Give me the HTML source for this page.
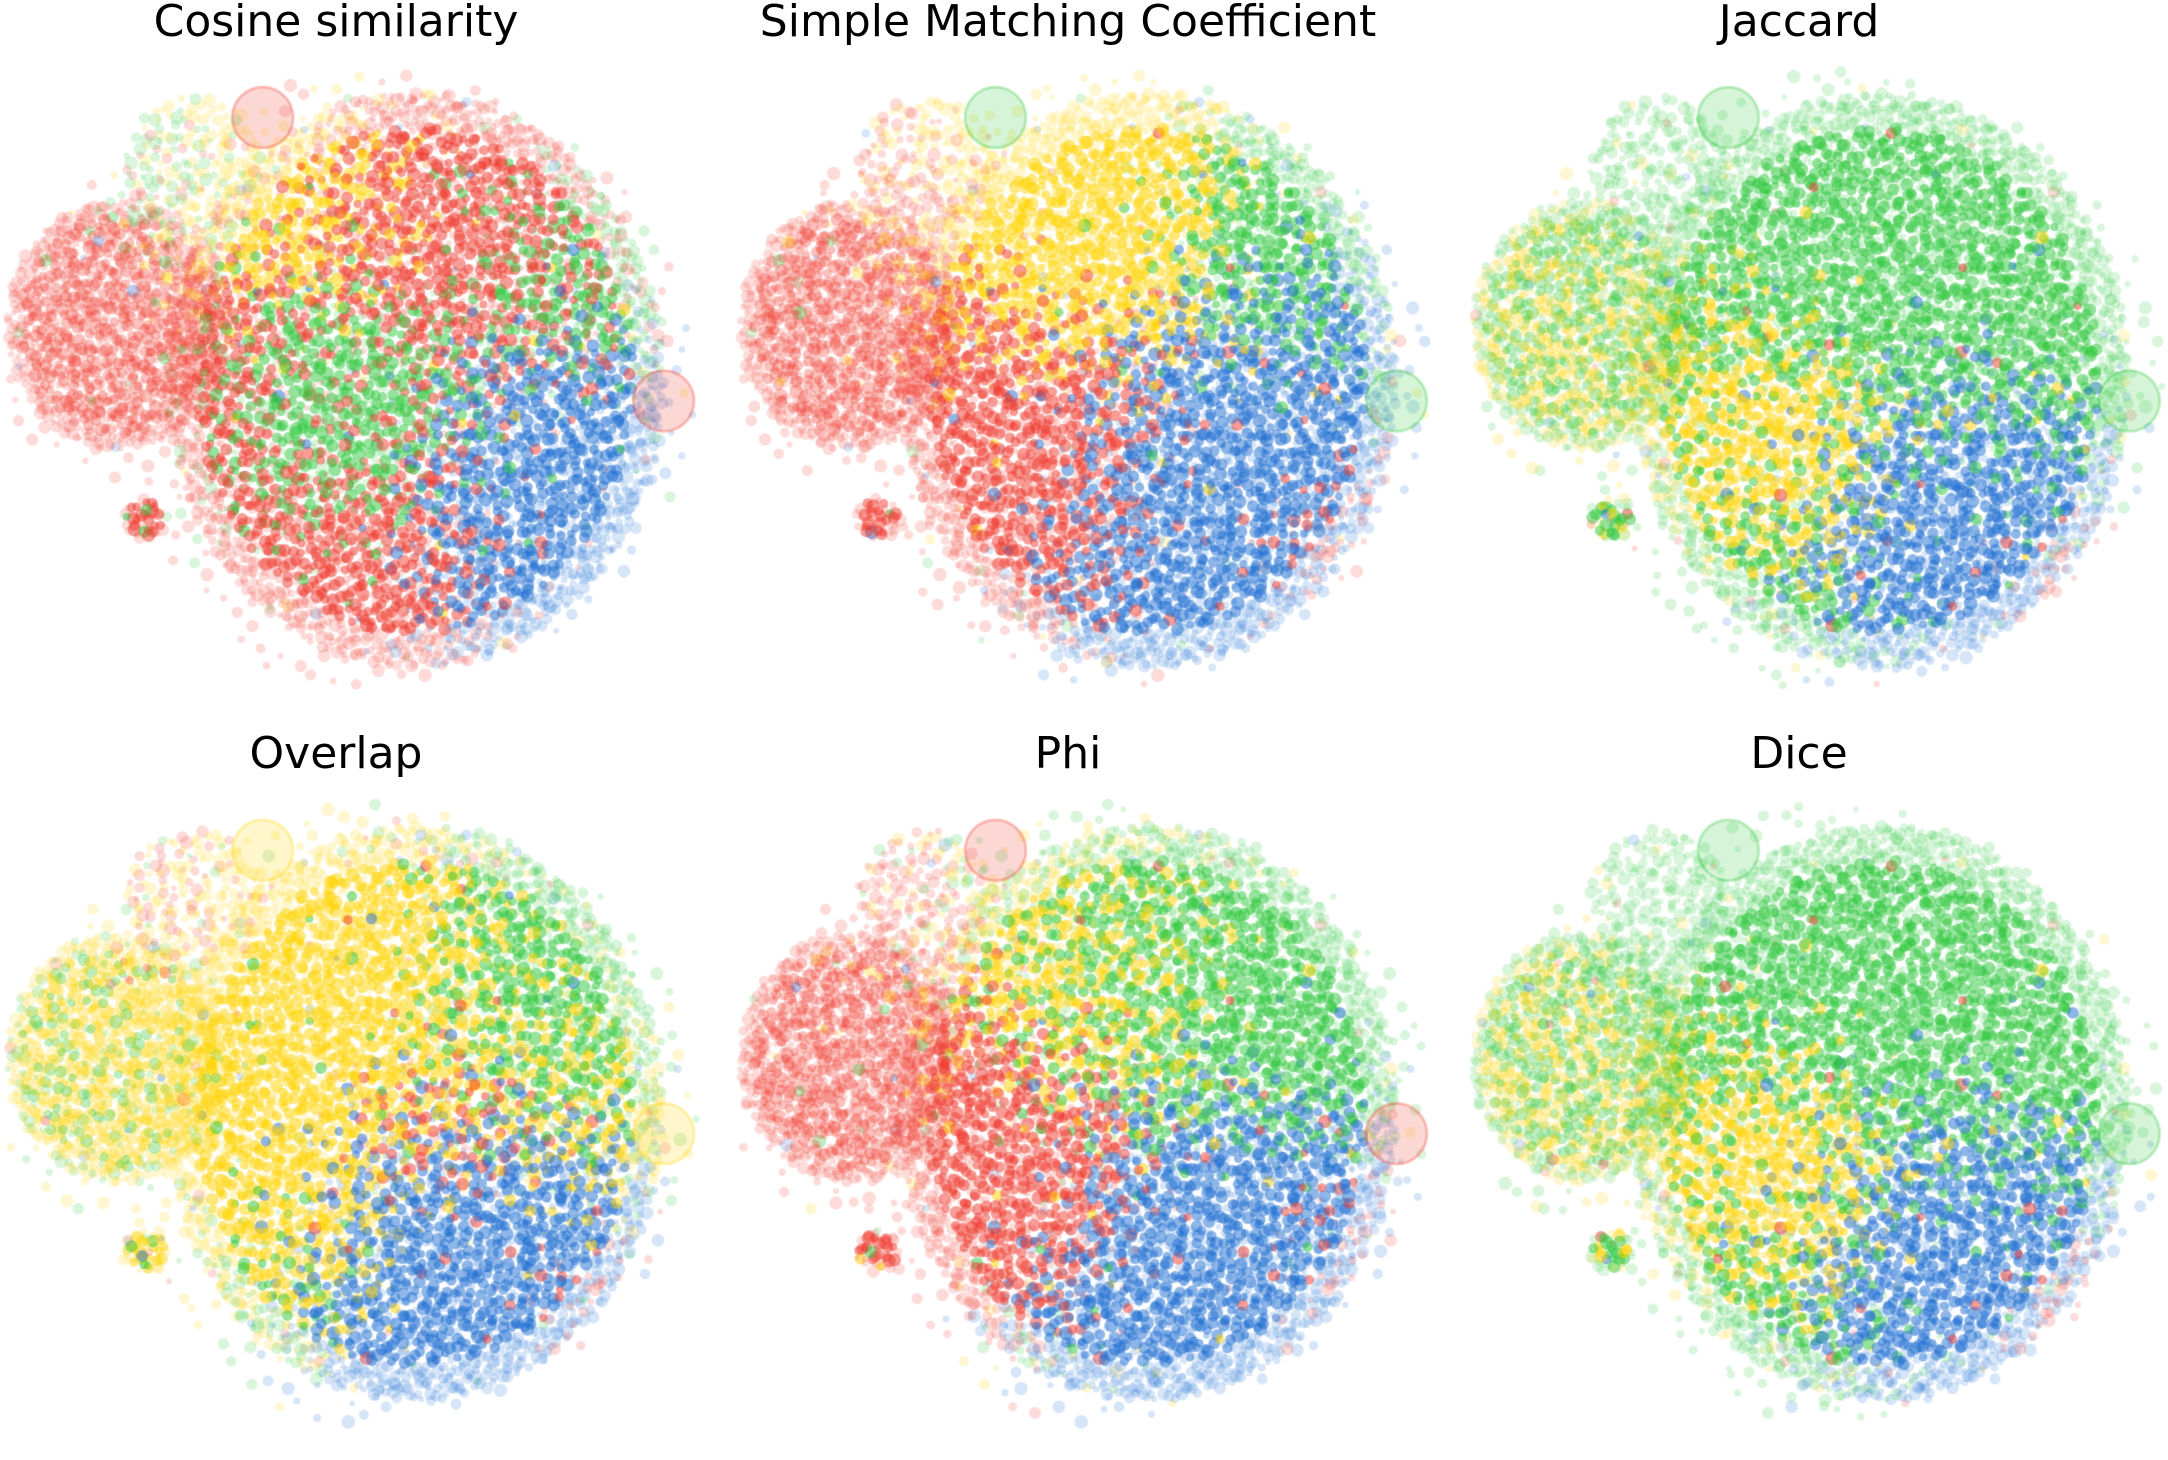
<!DOCTYPE html>
<html><head><meta charset="utf-8"><style>
body{margin:0;background:#fff;width:2168px;height:1460px;overflow:hidden;position:relative;font-family:"DejaVu Sans","Liberation Sans",sans-serif}
.t{position:absolute;font-size:44px;color:#000;transform:translateX(-50%);white-space:nowrap;line-height:1}
canvas{position:absolute;left:0;top:0}
</style></head><body>
<canvas id="c" width="2168" height="1460"></canvas>
<div class="t" style="left:336px;top:0px">Cosine similarity</div>
<div class="t" style="left:1068px;top:0px">Simple Matching Coefficient</div>
<div class="t" style="left:1799px;top:0px">Jaccard</div>
<div class="t" style="left:336px;top:732px">Overlap</div>
<div class="t" style="left:1068px;top:732px">Phi</div>
<div class="t" style="left:1799px;top:732px">Dice</div>
<script>
// colour regions per panel: [cx, cy, sigma, colorKey, weight] (panel-local display units)
const colors={r:"240,58,46",y:"255,212,0",g:"46,200,60",b:"30,110,210"};
const panelOrigins=[[0,0],[530,0],[1060,0],[0,530],[530,530],[1060,530]];
// cloud shape: [cx, cy, rx, ry, count, faint, alpha]
const cloudParts=[[255,275,250,225,700,1,0.5],[300,275,180,208,4200,0,0.5],[85,235,80,90,950,0,0.32],[140,120,50,50,180,1,0.5],[105,375,16,15,40,0,0.5]];
const cosineRegions=[[75,235,60,'r',3],[130,130,35,'g',1.2],[200,130,60,'y',2],[330,170,70,'r',2],[270,90,50,'r',1],[240,300,55,'g',2.3],[400,200,50,'g',1.2],[400,340,60,'b',2],[380,420,50,'b',1.5],[240,420,70,'r',2.5],[160,280,40,'r',1]];
const smcRegions=[[75,235,60,'r',3],[130,130,35,'r',1],[230,150,70,'y',3],[400,170,50,'g',2],[430,210,40,'b',1],[210,330,60,'r',3],[350,360,70,'b',3],[440,400,40,'r',1]];
const jaccardRegions=[[75,235,60,'y',1.5],[75,235,60,'g',1.5],[130,130,35,'g',1.5],[330,160,100,'g',3],[230,320,50,'y',2.5],[350,370,60,'b',3],[200,420,60,'g',1],[440,420,30,'r',1]];
const overlapRegions=[[75,235,60,'y',2],[75,235,60,'g',1],[130,130,35,'r',0.8],[210,200,70,'y',3],[200,360,50,'y',2],[400,200,60,'g',1.5],[400,250,60,'y',1],[320,290,40,'r',1],[340,400,70,'b',3],[200,400,40,'g',1],[420,420,30,'r',1]];
const phiRegions=[[75,235,60,'r',3],[130,130,35,'r',1],[240,160,70,'y',2],[300,150,80,'g',2],[190,310,55,'r',3],[420,200,50,'g',1.5],[360,390,70,'b',3],[440,380,40,'r',0.7]];
const diceRegions=jaccardRegions;
const allRegions=[cosineRegions,smcRegions,jaccardRegions,overlapRegions,phiRegions,diceRegions];
const bigCircles=['r','g','g','y','r','g'];
const S=2168/1568;
const ctx=document.getElementById('c').getContext('2d');
function halton(i,b){let f=1,r=0;while(i>0){f/=b;r+=f*(i%b);i=Math.floor(i/b);}return r;}
ctx.scale(S,S);
const keys=['r','y','g','b'];
allRegions.forEach((regs,p)=>{
  const [ox,oy]=panelOrigins[p];
  let k=1+p*331;
  cloudParts.forEach(([cx,cy,rx,ry,n,faint,al])=>{
    for(let i=0;i<n;i++,k++){
      const u=halton(k,2),v=halton(k,3),w=halton(k,5),c=halton(k,7);
      const rr=Math.sqrt(u),a=v*Math.PI*2;
      const x=cx+rx*rr*Math.cos(a),y=cy+ry*rr*Math.sin(a);
      if(faint&&rx>200&&((x-300)/190)**2+((y-275)/215)**2>1.25&&((x-85)/90)**2+((y-235)/100)**2>1.3)continue;
      const wt={r:0.06,y:0.06,g:0.06,b:0.06};
      regs.forEach(([gx,gy,s,col,wg])=>{const d=(x-gx)**2+(y-gy)**2;wt[col]+=wg*Math.exp(-d/(2*s*s));});
      keys.forEach(q=>wt[q]=Math.pow(wt[q],1.5));
      let tot=0;keys.forEach(q=>tot+=wt[q]);
      let acc=0,col='r';
      for(const q of keys){acc+=wt[q]/tot;if(c<=acc){col=q;break;}}
      const edge=rr>0.88||faint;
      const rad=2+w*3;
      const alpha=(w<0.3||edge)?0.18:al;
      ctx.beginPath();ctx.arc(ox+x,oy+y,rad,0,7);
      ctx.fillStyle=`rgba(${colors[col]},${alpha})`;ctx.fill();
    }
  });
  const bc=bigCircles[p];
  [[190,85],[480,290]].forEach(([x,y])=>{
    ctx.beginPath();ctx.arc(ox+x,oy+y,22,0,7);
    ctx.fillStyle=`rgba(${colors[bc]},0.2)`;ctx.fill();
    ctx.strokeStyle=`rgba(${colors[bc]},0.3)`;ctx.lineWidth=2;ctx.stroke();
  });
});
</script>
</body></html>
